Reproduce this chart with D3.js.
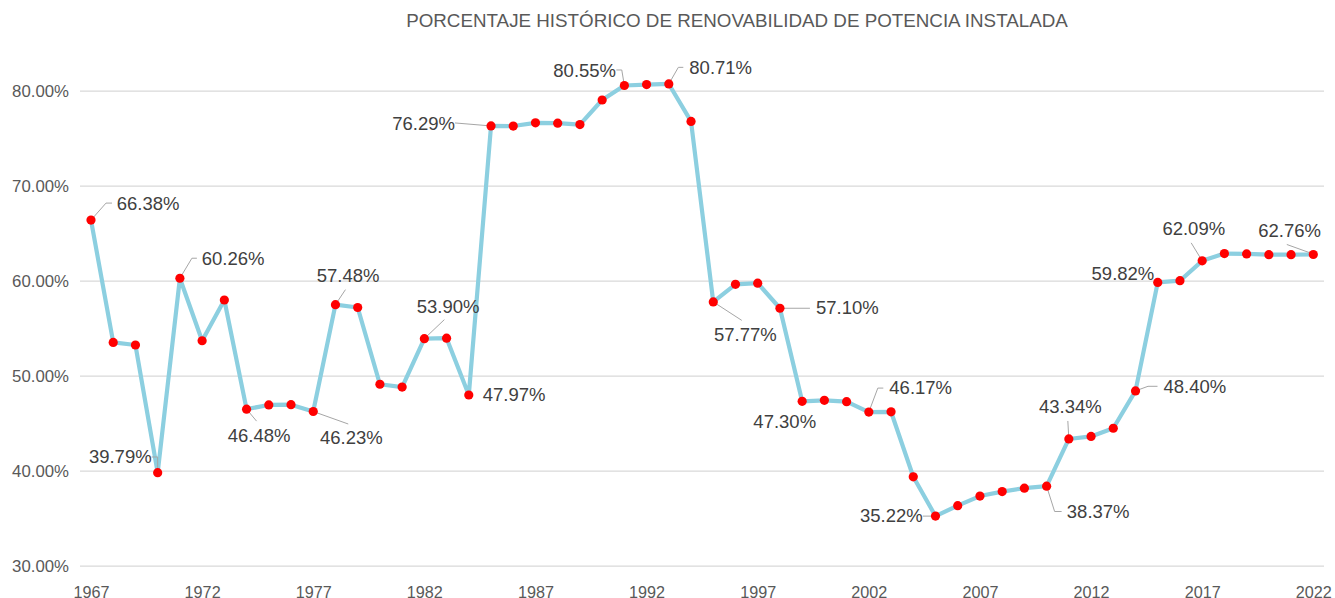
<!DOCTYPE html>
<html>
<head>
<meta charset="utf-8">
<script src="https://cdn.jsdelivr.net/npm/d3@7"></script>
<style>
  html, body { margin: 0; padding: 0; background: #ffffff; }
  svg { display: block; font-family: "Liberation Sans", Arial, sans-serif; }
</style>
</head>
<body>
<svg id="chart" width="1335" height="598"></svg>
<script>
// ---- data ----
const title = "PORCENTAJE HISTÓRICO DE RENOVABILIDAD DE POTENCIA INSTALADA";
const years = d3.range(1967, 2023);
const values = [
  66.38, 53.50, 53.23, 39.79, 60.26, 53.68, 57.97, 46.48, 46.92, 46.95,
  46.23, 57.48, 57.18, 49.10, 48.80, 53.90, 53.95, 47.97, 76.29, 76.28,
  76.62, 76.58, 76.43, 79.02, 80.55, 80.64, 80.71, 76.77, 57.77, 59.62,
  59.74, 57.10, 47.30, 47.41, 47.27, 46.17, 46.20, 39.36, 35.22, 36.32,
  37.33, 37.80, 38.16, 38.37, 43.34, 43.61, 44.47, 48.40, 59.82, 60.00,
  62.09, 62.86, 62.82, 62.74, 62.74, 62.76
];
const xTickValues = [1967, 1972, 1977, 1982, 1987, 1992, 1997, 2002, 2007, 2012, 2017, 2022];
const yTickValues = [30, 40, 50, 60, 70, 80];
const labeledYears = [1967, 1970, 1971, 1974, 1977, 1978, 1982, 1984, 1985, 1991, 1993,
  1995, 1998, 1999, 2002, 2005, 2010, 2011, 2014, 2015, 2017, 2022];

// ---- label layout (offsets from the point, px) ----
const labelLayout = {
  1967: { dx: 25.7, dy: -17, anchor: "start", leader: [[0,0],[15,-17],[21,-17]] },
  1970: { dx: -6, dy: -15.7, anchor: "end", leader: [[-6,-15.7],[0,-15.7],[0,0]] },
  1971: { dx: 21.8, dy: -20, anchor: "start", leader: [[0,0],[12,-20],[17,-20]] },
  1974: { dx: -18.8, dy: 26, anchor: "start", leader: [[0,0],[10,12]] },
  1977: { dx: 6.8, dy: 26.5, anchor: "start", leader: [[0,0],[35,12.5]] },
  1978: { dx: -18.7, dy: -29, anchor: "start", leader: [[0,0],[10,-15]] },
  1982: { dx: -7.6, dy: -32.6, anchor: "start", leader: [[0,0],[20,-19]] },
  1984: { dx: 14, dy: 0, anchor: "start", leader: null },
  1985: { dx: -36, dy: -2.3, anchor: "end", leader: [[-36,-3],[0,0]] },
  1991: { dx: -8.3, dy: -15.3, anchor: "end", leader: [[-8,-15.5],[-2.6,-15.5],[0,0]] },
  1993: { dx: 20.5, dy: -16.6, anchor: "start", leader: [[0,0],[9.5,-16.6],[14.5,-16.6]] },
  1995: { dx: 0.8, dy: 32.8, anchor: "start", leader: [[0,0],[28.5,18.5]] },
  1998: { dx: 36, dy: -0.7, anchor: "start", leader: [[0,0],[30,0]] },
  1999: { dx: -48.8, dy: 20.1, anchor: "start", leader: null },
  2002: { dx: 20.5, dy: -25, anchor: "start", leader: [[0,0],[9,-24],[14.5,-24]] },
  2005: { dx: -12.7, dy: -0.3, anchor: "end", leader: [[-12.7,0],[0,0]] },
  2010: { dx: 20.2, dy: 25.3, anchor: "start", leader: [[0,0],[8,25.3],[15,25.3]] },
  2011: { dx: -29.8, dy: -32.5, anchor: "start", leader: [[-1,-18],[0,0]] },
  2014: { dx: 28, dy: -4.6, anchor: "start", leader: [[0,0],[12.5,-4.6],[22,-4.6]] },
  2015: { dx: -3.4, dy: -8.6, anchor: "end", leader: null },
  2017: { dx: -39.8, dy: -32.2, anchor: "start", leader: [[-11,-18],[0,0]] },
  2022: { dx: -55, dy: -23.8, anchor: "start", leader: [[-26.5,-10],[-1.5,-1]] }
};

// ---- drawing ----
const svg = d3.select("#chart");
const data = years.map((yr, i) => ({ year: yr, value: values[i] }));

const x = d3.scaleLinear().domain([1967, 2022]).range([91, 1313.3]);
const y = d3.scaleLinear().domain([30, 80]).range([565.7, 90.7]);
const gridLeft = 80, gridRight = 1324;

// title
svg.append("text")
  .attr("x", 737).attr("y", 27)
  .attr("text-anchor", "middle")
  .attr("fill", "#595959")
  .attr("font-size", "18.8px")
  .text(title);

// y axis with gridlines
const yAxis = d3.axisLeft(y)
  .tickValues(yTickValues)
  .tickSizeInner(-(gridRight - gridLeft))
  .tickSizeOuter(0)
  .tickPadding(11)
  .tickFormat(d => d.toFixed(2) + "%");
const gy = svg.append("g").attr("transform", `translate(${gridLeft},0)`).call(yAxis);
gy.select(".domain").remove();
gy.selectAll(".tick line").attr("stroke", "#d9d9d9").attr("stroke-width", 1.3);
gy.selectAll(".tick text").attr("fill", "#595959").attr("font-size", "16.8px")
  .attr("font-family", "'Liberation Sans', Arial, sans-serif");

// x axis
const xAxis = d3.axisBottom(x)
  .tickValues(xTickValues)
  .tickSize(0)
  .tickPadding(20.5)
  .tickFormat(d3.format("d"));
const gx = svg.append("g").attr("transform", `translate(0,${y(30)})`).call(xAxis);
gx.select(".domain").remove();
gx.selectAll(".tick text").attr("fill", "#595959").attr("font-size", "16.2px")
  .attr("font-family", "'Liberation Sans', Arial, sans-serif");

// line
const line = d3.line().x(d => x(d.year)).y(d => y(d.value));
svg.append("path")
  .datum(data)
  .attr("fill", "none")
  .attr("stroke", "#8ccfe0")
  .attr("stroke-width", 4.2)
  .attr("stroke-linejoin", "round")
  .attr("d", line);

// leader lines
const labeled = data.filter(d => labeledYears.includes(d.year));
svg.append("g").selectAll("path")
  .data(labeled.filter(d => labelLayout[d.year].leader))
  .join("path")
  .attr("fill", "none")
  .attr("stroke", "#a6a6a6")
  .attr("stroke-width", 1)
  .attr("d", d => d3.line()(labelLayout[d.year].leader.map(p => [x(d.year) + p[0], y(d.value) + p[1]])));

// markers
svg.append("g").selectAll("circle")
  .data(data)
  .join("circle")
  .attr("cx", d => x(d.year))
  .attr("cy", d => y(d.value))
  .attr("r", 4.6)
  .attr("fill", "#ff0000");

// data labels
svg.append("g").selectAll("text")
  .data(labeled)
  .join("text")
  .attr("x", d => x(d.year) + labelLayout[d.year].dx)
  .attr("y", d => y(d.value) + labelLayout[d.year].dy)
  .attr("dy", "0.35em")
  .attr("text-anchor", d => labelLayout[d.year].anchor)
  .attr("fill", "#404040")
  .attr("font-size", "18.5px")
  .text(d => d.value.toFixed(2) + "%");
</script>
</body>
</html>
